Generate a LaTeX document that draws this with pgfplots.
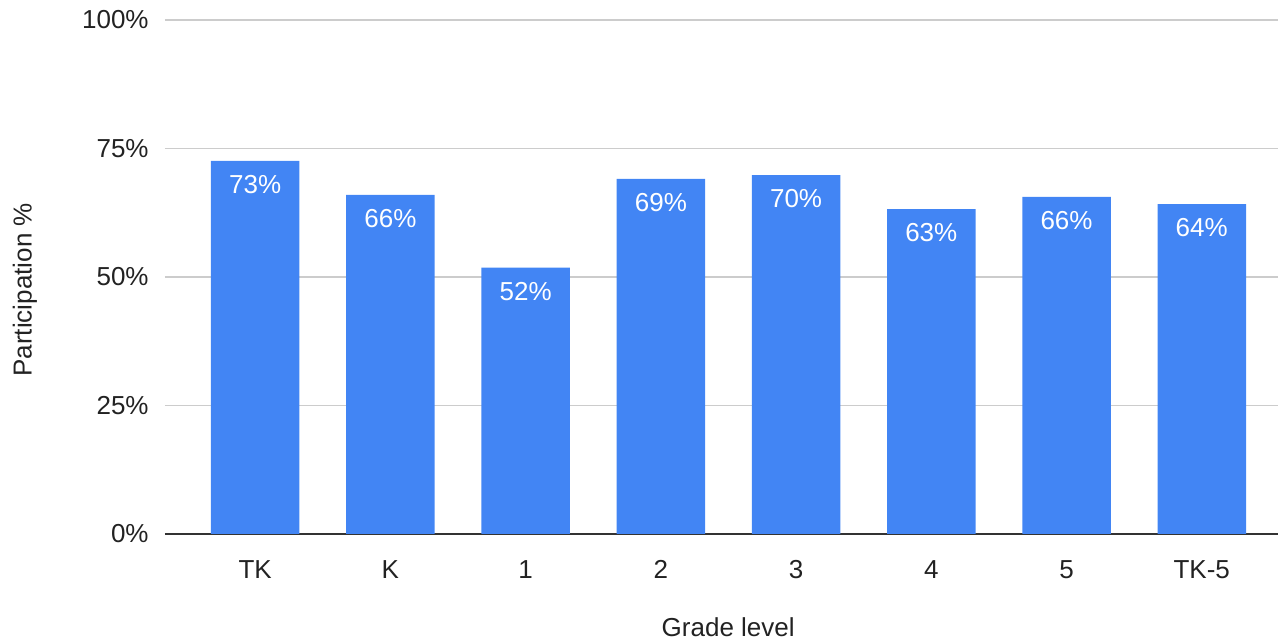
\documentclass[border=0pt]{standalone}
\usepackage{fontspec}
\setmainfont{Liberation Sans}
\usepackage{pgfplots}
\pgfplotsset{compat=1.18}
\definecolor{barblue}{HTML}{4285F4}
\definecolor{gridgray}{HTML}{CCCCCC}
\definecolor{axisdark}{HTML}{333333}
\definecolor{txt}{HTML}{222222}
\begin{document}
\begin{tikzpicture}
\useasboundingbox (-82.5pt,-53pt) rectangle (556.5pt,267pt);
\begin{axis}[
  at={(0pt,0pt)}, anchor=south west,
  scale only axis,
  width=556.5pt, height=257pt,
  ybar, bar width=44.25pt,
  xmin=-0.667, xmax=7.564,
  ymin=0, ymax=100,
  enlarge x limits=false,
  xtick={0,1,2,3,4,5,6,7},
  xticklabels={TK,K,1,2,3,4,5,TK-5},
  ytick={0,25,50,75,100},
  yticklabel={\pgfmathprintnumber{\tick}\%},
  /pgf/number format/assume math mode=true,
  axis lines*=left,
  y axis line style={draw=none},
  x axis line style={draw=axisdark, line width=0.7pt},
  tick style={draw=none},
  ymajorgrids,
  grid style={draw=gridgray, line width=0.7pt},
  ticklabel style={font=\fontsize{13}{15}\selectfont, text=txt},
  xticklabel style={anchor=base, yshift=-18pt},
  yticklabel style={anchor=east, inner sep=0pt, xshift=-8pt},
  xlabel={Grade level},
  ylabel={Participation \%},
  label style={font=\fontsize{13}{15}\selectfont, text=txt},
  xlabel style={at={(axis description cs:0.506,0)}, anchor=base, yshift=-51.35pt},
  ylabel style={at={(axis description cs:-0.1258,0.475)}, anchor=center},
  nodes near coords={\pgfmathprintnumber[fixed,precision=0]{\pgfplotspointmeta}\%},
  every node near coord/.append style={anchor=base, yshift=-16.3pt, text=white, font=\fontsize{13}{15}\selectfont},
]
\addplot[fill=barblue, draw=none] coordinates {
  (0,72.6) (1,66.0) (2,51.8) (3,69.1) (4,69.8) (5,63.2) (6,65.6) (7,64.2)
};
\end{axis}
\end{tikzpicture}
\end{document}
